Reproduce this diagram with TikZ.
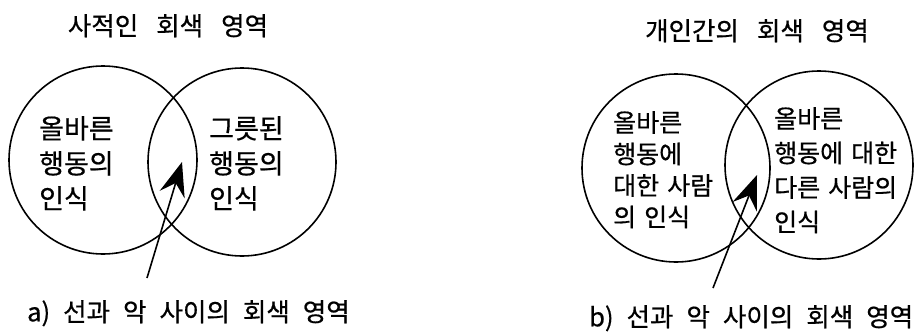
\documentclass[tikz,border=0pt]{standalone}
\usepackage{fontspec}
\usepackage{xcolor}
\usetikzlibrary{arrows.meta}
\setmainfont{Noto Sans CJK KR}[FakeBold=0.6]
\definecolor{ink}{HTML}{000000}

\newcommand\notefont[2]{\fontsize{#1}{#2}\selectfont\spaceskip=8pt plus 1pt\relax}
\newcommand\headfont{\fontsize{25.5}{28}\selectfont\spaceskip=18pt plus 1pt\relax}
\newcommand\capfont{\fontsize{25.5}{28}\selectfont\spaceskip=13pt plus 1pt\relax}

\tikzset{
  ring/.style={circle, draw=ink, line width=1.6pt, minimum size=188pt, inner sep=0pt},
  note/.style={anchor=north west, inner sep=0pt, align=left, font=\notefont{27}{35}},
  heading/.style={anchor=north, inner sep=0pt, font=\headfont},
  caption/.style={anchor=north west, inner sep=0pt, font=\capfont},
  pointer/.style={draw=ink, line width=1.6pt, -{Stealth[length=34pt,width=26pt,inset=12pt]}}
}

\begin{document}
\begin{tikzpicture}[x=1pt, y=-1pt]
  \useasboundingbox (0,0) rectangle (921,332);

  % a) private gray zone
  \node[heading] (titleA) at (168,14) {사적인 회색 영역};
  \node[ring] (goodA) at (103,160) {};
  \node[ring] (badA) at (242,162) {};
  \node[note] (goodTextA) at (39,116) {올바른\\행동의\\인식};
  \node[note] (badTextA) at (209,116) {그릇된\\행동의\\인식};
  \coordinate (tailA) at (147,278);
  \coordinate (tipA) at (182,162);
  \draw[pointer] (tailA) -- (tipA);
  \node[caption] (capA) at (27,300) {a) 선과 악 사이의 회색 영역};

  % b) interpersonal gray zone
  \node[heading] (titleB) at (757,19) {개인간의 회색 영역};
  \node[ring] (selfB) at (676,168) {};
  \node[ring] (otherB) at (819,165) {};
  \node[note, font=\notefont{25}{31.5}] (selfTextB) at (613,111) {올바른\\행동에\\대한 사람\\의 인식};
  \node[note, font=\notefont{25}{34.5}] (otherTextB) at (774,107) {올바른\\행동에 대한\\다른 사람의\\인식};
  \coordinate (tailB) at (713,288);
  \coordinate (tipB) at (757,175);
  \draw[pointer] (tailB) -- (tipB);
  \node[caption] (capB) at (589,305) {b) 선과 악 사이의 회색 영역};
\end{tikzpicture}
\end{document}
